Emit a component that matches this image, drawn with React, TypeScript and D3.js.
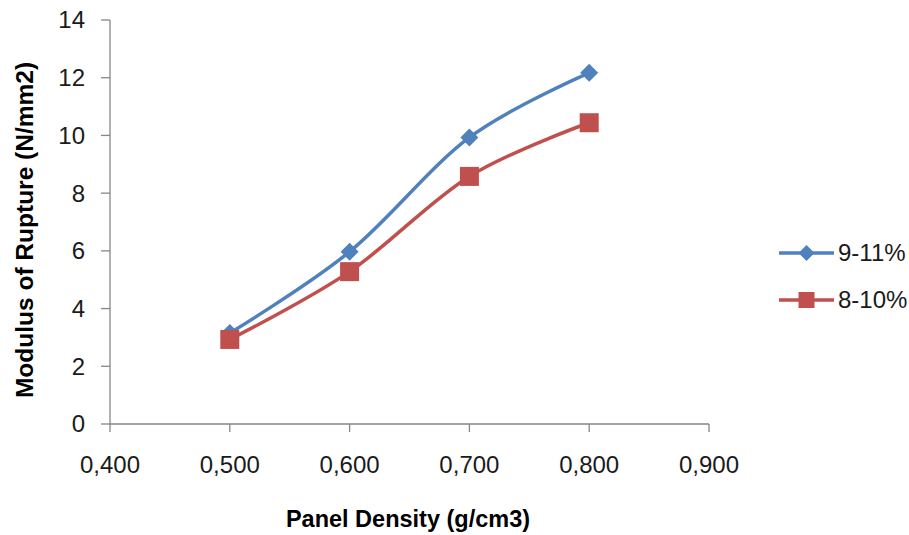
import React from "react";
import * as d3 from "d3";

const densities = [0.5, 0.6, 0.7, 0.8];
const series1Name = "9-11%";
const series1Values = [3.15, 5.97, 9.93, 12.17];
const series2Name = "8-10%";
const series2Values = [2.93, 5.28, 8.58, 10.44];
const xTicks = [0.4, 0.5, 0.6, 0.7, 0.8, 0.9];
const yTicks = [0, 2, 4, 6, 8, 10, 12, 14];

const W = 909;
const H = 535;
const FONT = "'Liberation Sans', Arial, sans-serif";
const BLUE = "#4F81BD";
const RED = "#C0504D";
const AXIS = "#868686";

export default function App() {
  const x = d3.scaleLinear().domain([0.4, 0.9]).range([110, 709]);
  const y = d3.scaleLinear().domain([0, 14]).range([424, 20]);
  const line = d3
    .line<[number, number]>()
    .x((d) => x(d[0]))
    .y((d) => y(d[1]))
    .curve(d3.curveCardinal.tension(0));
  const pts1: [number, number][] = densities.map((d, i) => [d, series1Values[i]]);
  const pts2: [number, number][] = densities.map((d, i) => [d, series2Values[i]]);
  const diamond = (cx: number, cy: number, r: number) =>
    `M${cx},${cy - r}L${cx + r},${cy}L${cx},${cy + r}L${cx - r},${cy}Z`;
  const fmt = (v: number) => v.toFixed(3).replace(".", ",");

  return (
    <svg
      width={W}
      height={H}
      style={{ position: "absolute", left: 0, top: 0, background: "#fff" }}
      fontFamily={FONT}
    >
      {/* axes */}
      <line x1={x(0.4)} x2={x(0.4)} y1={y(14)} y2={y(0)} stroke={AXIS} strokeWidth={1.3} />
      <line x1={x(0.4)} x2={x(0.9)} y1={y(0)} y2={y(0)} stroke={AXIS} strokeWidth={1.3} />
      {yTicks.map((t) => (
        <g key={"y" + t}>
          <line x1={x(0.4) - 9} x2={x(0.4)} y1={y(t)} y2={y(t)} stroke={AXIS} strokeWidth={1.3} />
          <text x={85} y={y(t)} dy="0.35em" textAnchor="end" fontSize={24} fill="#1a1a1a">
            {t}
          </text>
        </g>
      ))}
      {xTicks.map((t) => (
        <g key={"x" + t}>
          <line x1={x(t)} x2={x(t)} y1={y(0)} y2={y(0) + 8} stroke={AXIS} strokeWidth={1.3} />
          <text x={x(t)} y={473} textAnchor="middle" fontSize={24} fill="#1a1a1a">
            {fmt(t)}
          </text>
        </g>
      ))}
      {/* axis titles */}
      <text x={408} y={527} textAnchor="middle" fontSize={23.5} fontWeight="bold" fill="#000">
        Panel Density (g/cm3)
      </text>
      <text
        transform={`translate(33,230) rotate(-90)`}
        textAnchor="middle"
        fontSize={24.5}
        fontWeight="bold"
        fill="#000"
      >
        Modulus of Rupture (N/mm2)
      </text>
      {/* series lines */}
      <path d={line(pts1) || ""} fill="none" stroke={BLUE} strokeWidth={3.5} />
      {pts1.map((p, i) => (
        <path key={"d" + i} d={diamond(x(p[0]), y(p[1]), 9)} fill={BLUE} />
      ))}
      <path d={line(pts2) || ""} fill="none" stroke={RED} strokeWidth={3.5} />
      {pts2.map((p, i) => (
        <rect key={"s" + i} x={x(p[0]) - 9.5} y={y(p[1]) - 9.5} width={19} height={19} fill={RED} />
      ))}
      {/* legend */}
      <line x1={779} x2={834} y1={253} y2={253} stroke={BLUE} strokeWidth={3.5} />
      <path d={diamond(806.5, 253, 8)} fill={BLUE} />
      <text x={838} y={253} dy="0.35em" fontSize={24} fill="#1a1a1a">
        {series1Name}
      </text>
      <line x1={779} x2={834} y1={300} y2={300} stroke={RED} strokeWidth={3.5} />
      <rect x={798.5} y={292} width={16} height={16} fill={RED} />
      <text x={838} y={300} dy="0.35em" fontSize={24} fill="#1a1a1a">
        {series2Name}
      </text>
    </svg>
  );
}
